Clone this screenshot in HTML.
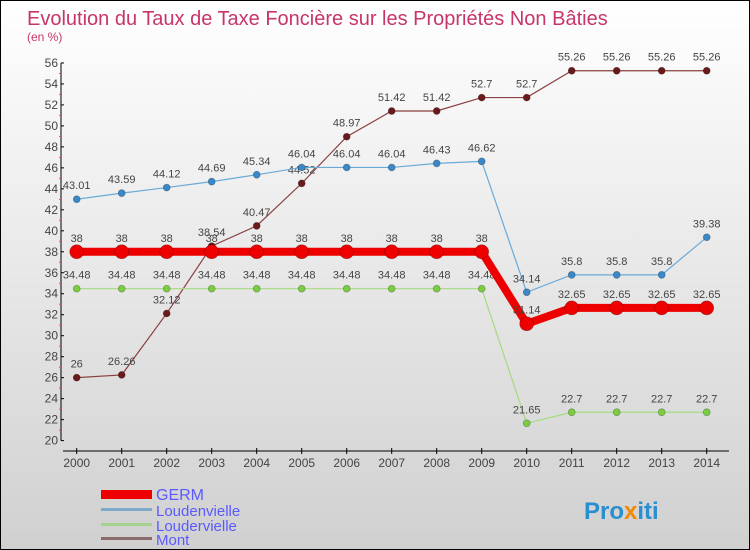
<!DOCTYPE html>
<html><head><meta charset="utf-8"><style>
body{margin:0}
#c{width:748px;height:548px;border:1px solid #000;background:linear-gradient(#ffffff,#d0d0d0);position:relative;font-family:"Liberation Sans",sans-serif;overflow:hidden}
text{font-family:"Liberation Sans",sans-serif}
</style></head><body>
<div id="c">
<svg width="748" height="548" id="svg">
<text x="26" y="24" font-size="20" fill="#c8356a">Evolution du Taux de Taxe Foncière sur les Propriétés Non Bâties</text>
<text x="26" y="40" font-size="12" fill="#c8356a">(en %)</text>
<g id="axes"></g><g id="series"></g>
<g>
<rect x="100" y="489" width="51" height="9" fill="#e00"/>
<text x="155" y="499" font-size="16" fill="#5a5aff">GERM</text>
<rect x="100" y="507" width="51" height="3" fill="#7fa9c9"/>
<text x="155" y="515" font-size="15" fill="#5a5aff">Loudenvielle</text>
<rect x="100" y="522" width="51" height="3" fill="#a3d38c"/>
<text x="155" y="530" font-size="15" fill="#5a5aff">Loudervielle</text>
<rect x="100" y="536" width="51" height="3" fill="#8a6a6a"/>
<text x="155" y="544" font-size="15" fill="#5a5aff">Mont</text>
</g>
<text x="583" y="518" font-size="24" font-weight="bold" fill="#2a8fd0">Pro<tspan fill="#f08a00">x</tspan>iti</text>
</svg></div>
<script>
const years=[2000,2001,2002,2003,2004,2005,2006,2007,2008,2009,2010,2011,2012,2013,2014];
const germ=[38,38,38,38,38,38,38,38,38,38,31.14,32.65,32.65,32.65,32.65];
const loudenvielle=[43.01,43.59,44.12,44.69,45.34,46.04,46.04,46.04,46.43,46.62,34.14,35.8,35.8,35.8,39.38];
const loudervielle=[34.48,34.48,34.48,34.48,34.48,34.48,34.48,34.48,34.48,34.48,21.65,22.7,22.7,22.7,22.7];
const mont=[26,26.26,32.12,38.54,40.47,44.52,48.97,51.42,51.42,52.7,52.7,55.26,55.26,55.26,55.26];
const yTicks=[20,22,24,26,28,30,32,34,36,38,40,42,44,46,48,50,52,54,56];
const NS="http://www.w3.org/2000/svg";
const X=i=>75.7+i*45.0;
const Y=v=>439.6-(v-20)*10.49;
function mk(t,a,p){const e=document.createElementNS(NS,t);for(const k in a)e.setAttribute(k,a[k]);p.appendChild(e);return e;}
const ax=document.getElementById('axes');
let l=mk('line',{x1:60,y1:Y(56),x2:60,y2:Y(20),stroke:'#000','stroke-width':1},ax);


yTicks.forEach(v=>{
 mk('line',{x1:60,x2:63,y1:Y(v),y2:Y(v),stroke:'#000'},ax);
 if(v<56) mk('line',{x1:58,x2:60,y1:Y(v+1),y2:Y(v+1),stroke:'#f44'},ax);
 const t=mk('text',{x:57,y:Y(v)+4,'font-size':12,'text-anchor':'end',fill:'#444'},ax);t.textContent=v;
 
 
});
l=mk('line',{x1:62,y1:450,x2:728,y2:450,stroke:'#000'},ax);


years.forEach((y,i)=>{
 mk('line',{x1:X(i),x2:X(i),y1:447,y2:453,stroke:'#000'},ax);
 const t=mk('text',{x:X(i),y:466,'font-size':12,'text-anchor':'middle',fill:'#444'},ax);t.textContent=y;
 
 
});
const sg=document.getElementById('series');
function series(name,vals,col,dot,w,r){
 const g=mk('g',{},sg);
 
 
 const p=mk('polyline',{points:vals.map((v,i)=>X(i)+','+Y(v)).join(' '),fill:'none',stroke:col,'stroke-width':w},g);
 
 
 vals.forEach((v,i)=>{
  const c=mk('circle',{cx:X(i),cy:Y(v),r:r,fill:dot,stroke:'rgba(0,0,0,0.3)','stroke-width':0.7},g);
  
  
  const t=mk('text',{x:X(i),y:Y(v)-10,'font-size':11,'text-anchor':'middle',fill:'#444'},g);
  t.textContent=String(v);
  
  
 });
}
series('mont',mont,'#8a4040','#6a1a1a',1.2,3.5);
series('loudenvielle',loudenvielle,'#6aaad8','#3a88c8',1.2,3.5);
series('loudervielle',loudervielle,'#a3dc80','#7acc40',1.2,3.5);
series('germ',germ,'#e00','#e00',8,7);
</script>
</body></html>
